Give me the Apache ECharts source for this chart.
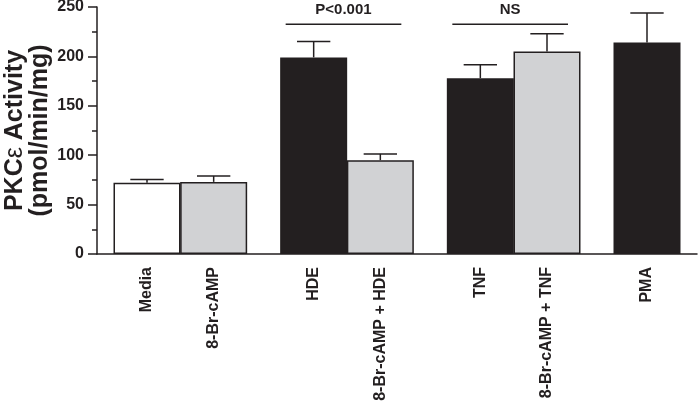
<!DOCTYPE html>
<html>
<head>
<meta charset="utf-8">
<script src="https://cdn.jsdelivr.net/npm/echarts@6/dist/echarts.min.js"></script>
<style>html,body{margin:0;padding:0;background:#fff;}#c{width:698px;height:407px;}</style>
</head>
<body>
<div id="c"></div>
<script>
// ---- data ----
const groups = [['Media', '8-Br-cAMP'], ['HDE', '8-Br-cAMP + HDE'], ['TNF', '8-Br-cAMP + TNF'], ['PMA']];
const categories = groups.flat();
const means = [72, 73, 199, 95, 178, 205, 214];
const sems = [3.5, 6, 16, 6.3, 13.5, 18, 30];
const annotations = [
  { from: 'HDE', to: '8-Br-cAMP + HDE', level: 232.5, text: 'P<0.001' },
  { from: 'TNF', to: '8-Br-cAMP + TNF', level: 232.5, text: 'NS' }
];
const yMin = 0, yMax = 250, yInterval = 50;

// ---- layout of slots (half-bar units, blanks between bars and groups) ----
let nb = 0;
const blank = () => '\u200b'.repeat(++nb);
const slots = [blank()];
groups.forEach((g, gi) => {
  if (gi > 0) slots.push(blank());
  g.forEach(c => { slots.push(c); slots.push(blank()); });
});
const idxOf = name => slots.indexOf(name);

const INK = '#231f20';
const fillFor = name => name === 'Media' ? '#ffffff' : (name.indexOf('8-Br') === 0 ? '#d1d2d4' : INK);
const FONT = "'Liberation Sans', Arial, Helvetica, sans-serif";

const barData = slots.map(s => {
  const i = categories.indexOf(s);
  if (i < 0) return '-';
  return { value: means[i], itemStyle: { color: fillFor(s), borderColor: INK, borderWidth: 1.5 } };
});
const errData = categories.map((c, i) => [idxOf(c), means[i], sems[i]]);
const annData = annotations.map(a => [idxOf(a.from), idxOf(a.to), a.level]);

const chart = echarts.init(document.getElementById('c'));
chart.setOption({
  animation: false,
  backgroundColor: '#fff',
  grid: { left: 97, right: 1, top: 7, bottom: 153, containLabel: false, outerBoundsMode: 'none' },
  xAxis: {
    type: 'category',
    data: slots,
    boundaryGap: true,
    axisLine: { lineStyle: { color: INK, width: 1.5 } },
    axisTick: {
      alignWithLabel: true, length: 6,
      interval: (i, v) => categories.indexOf(v) >= 0,
      lineStyle: { color: INK, width: 1.5 }
    },
    axisLabel: {
      interval: (i, v) => categories.indexOf(v) >= 0,
      rotate: 90, margin: 13, color: INK,
      fontFamily: FONT, fontWeight: 'bold', fontSize: 16
    }
  },
  yAxis: {
    type: 'value', min: yMin, max: yMax, interval: yInterval,
    splitLine: { show: false },
    axisLine: { show: true, lineStyle: { color: INK, width: 1.5 } },
    axisTick: { show: true, length: 9, lineStyle: { color: INK, width: 1.5 } },
    minorTick: { show: true, splitNumber: 2, length: 5, lineStyle: { color: INK, width: 1.5 } },
    axisLabel: { color: INK, fontFamily: FONT, fontWeight: 'bold', fontSize: 16, margin: 13 },
    name: 'PKC{e|ε} Activity\n(pmol/min/mg)',
    nameLocation: 'middle', nameRotate: 90, nameGap: 44, nameMoveOverlap: false,
    nameTextStyle: {
      color: INK, fontFamily: FONT, fontWeight: 'bold', fontSize: 25, lineHeight: 25,
      rich: { e: { fontFamily: FONT, fontWeight: 'normal', fontSize: 25, color: INK } }
    }
  },
  series: [
    {
      type: 'bar', data: barData, barWidth: 67, z: 2
    },
    {
      type: 'custom', z: 3, data: errData,
      renderItem: (params, api) => {
        const x = api.value(0), m = api.value(1), e = api.value(2);
        const p0 = api.coord([x, m]);
        const p1 = api.coord([x, m + e]);
        const half = api.size([1, 0])[0] / 2;
        const st = { stroke: INK, lineWidth: 1.5 };
        return { type: 'group', children: [
          { type: 'line', shape: { x1: p0[0], y1: p0[1], x2: p1[0], y2: p1[1] }, style: st },
          { type: 'line', shape: { x1: p1[0] - half, y1: p1[1], x2: p1[0] + half, y2: p1[1] }, style: st }
        ] };
      }
    },
    {
      type: 'custom', z: 3, data: annData,
      renderItem: (params, api) => {
        const a = api.coord([api.value(0), api.value(2)]);
        const b = api.coord([api.value(1), api.value(2)]);
        const x1 = a[0] - 28, x2 = b[0] + 21;
        return { type: 'group', children: [
          { type: 'line', shape: { x1: x1, y1: a[1], x2: x2, y2: a[1] }, style: { stroke: INK, lineWidth: 1.5 } },
          { type: 'text', x: (x1 + x2) / 2, y: a[1] - 7,
            style: { text: annotations[params.dataIndex].text, fill: INK, font: "bold 15px " + FONT,
                     textAlign: 'center', textVerticalAlign: 'bottom' } }
        ] };
      }
    }
  ]
});
</script>
</body>
</html>
